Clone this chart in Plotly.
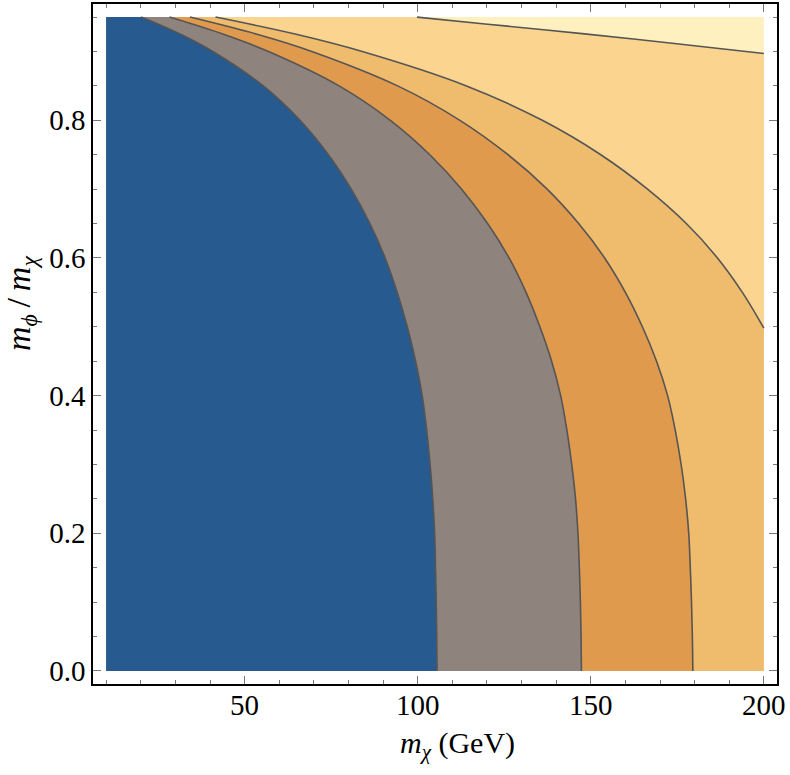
import plotly.graph_objects as go

# ---- data (contour boundaries, x in GeV, y = m_phi/m_chi) ----
x_min, x_max = 10, 200
y_min, y_max = 0.0, 0.95

c1_y = [0.0, 0.05, 0.1, 0.15, 0.2, 0.25, 0.3, 0.35, 0.4, 0.45, 0.5, 0.55, 0.6, 0.65, 0.7, 0.75, 0.8, 0.85, 0.9, 0.925, 0.95]
c1_x = [105.6, 105.5, 105.35, 105.15, 104.9, 104.35, 103.6, 102.6, 101.3, 99.4, 97.0, 94.1, 90.6, 86.2, 80.8, 74.2, 66.0, 55.4, 40.8, 31.5, 20.1]

c2_y = [0.0, 0.05, 0.1, 0.15, 0.2, 0.25, 0.3, 0.35, 0.4, 0.45, 0.5, 0.55, 0.6, 0.65, 0.7, 0.75, 0.8, 0.85, 0.9, 0.925, 0.95]
c2_x = [147.3, 147.2, 147.0, 146.7, 146.3, 145.6, 144.5, 143.1, 141.3, 138.7, 135.3, 131.3, 126.4, 120.2, 112.7, 103.5, 92.1, 77.3, 56.9, 43.9, 28.3]

c3_y = [0.0, 0.05, 0.1, 0.15, 0.2, 0.25, 0.3, 0.35, 0.4, 0.45, 0.5, 0.55, 0.6, 0.65, 0.7, 0.75, 0.8, 0.85, 0.9, 0.925, 0.95]
c3_x = [179.5, 179.35, 179.1, 178.75, 178.3, 177.4, 176.1, 174.4, 172.2, 169.0, 164.9, 160.0, 154.0, 146.5, 137.4, 126.1, 112.2, 94.2, 69.4, 53.6, 34.2]

c4_y = [0.498, 0.55, 0.6, 0.65, 0.7, 0.75, 0.8, 0.85, 0.9, 0.925, 0.95]
c4_x = [200.0, 193.8, 186.6, 177.6, 166.4, 152.9, 136.0, 114.1, 84.0, 64.9, 41.6]

c5_y = [0.897, 0.912, 0.926, 0.94, 0.95]
c5_x = [200.0, 173.5, 147.5, 119.5, 99.8]

region_colors = ["#275A8E", "#8F837D", "#E09A4E", "#EFBB6D", "#FBD590", "#FEF0BF"]
line_color = "#555555"

x_ticks = [50, 100, 150, 200]
y_ticks = [0.0, 0.2, 0.4, 0.6, 0.8]
y_tick_text = ["0.0", "0.2", "0.4", "0.6", "0.8"]

x_title = "<i>m</i><sub><i>χ</i></sub> (GeV)"
y_title = "<i>m</i><sub><i>ϕ</i></sub>\u2009/\u2009<i>m</i><sub><i>χ</i></sub>"

fig = go.Figure()

# lightest background region (whole data rectangle)
fig.add_trace(go.Scatter(
    x=[x_min, x_max, x_max, x_min], y=[y_min, y_min, y_max, y_max],
    mode="lines", fill="toself", fillcolor=region_colors[5],
    line=dict(width=0), hoverinfo="skip", showlegend=False))

edge_long_x = [x_max, x_min, x_min]
edge_long_y = [y_min, y_min, y_max]
edge_left_x = [x_min, x_min]
edge_left_y = [y_min, y_max]

curves = [
    (c5_x, c5_y, region_colors[4], edge_long_x, edge_long_y),
    (c4_x, c4_y, region_colors[3], edge_long_x, edge_long_y),
    (c3_x, c3_y, region_colors[2], edge_left_x, edge_left_y),
    (c2_x, c2_y, region_colors[1], edge_left_x, edge_left_y),
    (c1_x, c1_y, region_colors[0], edge_left_x, edge_left_y),
]

for cx, cy, col, ex, ey in curves:
    fig.add_trace(go.Scatter(x=ex, y=ey, mode="lines", line=dict(width=0),
                             hoverinfo="skip", showlegend=False))
    fig.add_trace(go.Scatter(x=cx, y=cy, mode="lines", fill="tonextx",
                             fillcolor=col,
                             line=dict(color=line_color, width=1.6, shape="spline", smoothing=1.0),
                             hoverinfo="skip", showlegend=False))

serif = "Liberation Serif"
fig.update_layout(
    width=790, height=775,
    margin=dict(l=93, r=13, t=2, b=91),
    paper_bgcolor="white", plot_bgcolor="white",
    font=dict(family=serif, size=29, color="black"),
    showlegend=False,
    annotations=[
        dict(text=x_title, xref="paper", yref="paper", x=0.5, y=-0.0894,
             xanchor="center", yanchor="middle", showarrow=False, xshift=22,
             font=dict(family=serif, size=30, color="black")),
        dict(text=y_title, xref="paper", yref="paper", x=-0.105, y=0.531,
             xanchor="center", yanchor="middle", showarrow=False, textangle=-90,
             yshift=20, font=dict(family=serif, size=34, color="black")),
    ],
)
fig.update_xaxes(
    range=[6.2, 203.8], tickvals=x_ticks, ticktext=[str(v) for v in x_ticks],
    ticks="inside", ticklen=8, tickwidth=1, tickcolor="#777777",
    minor=dict(dtick=10, tick0=0, ticks="inside", ticklen=4, tickwidth=1, tickcolor="#777777"),
    showline=True, linecolor="black", linewidth=1.6, mirror="ticks",
    showgrid=False, zeroline=False, ticklabelstandoff=-6,
    tickfont=dict(family=serif, size=29, color="black"),
)
fig.update_yaxes(
    range=[-0.019, 0.969], tickvals=y_ticks, ticktext=y_tick_text,
    ticks="inside", ticklen=8, tickwidth=1, tickcolor="#777777",
    minor=dict(dtick=0.05, tick0=0, ticks="inside", ticklen=4, tickwidth=1, tickcolor="#777777"),
    showline=True, linecolor="black", linewidth=1.6, mirror="ticks",
    showgrid=False, zeroline=False,
    tickfont=dict(family=serif, size=29, color="black"),
)

fig.write_html("out.html")
